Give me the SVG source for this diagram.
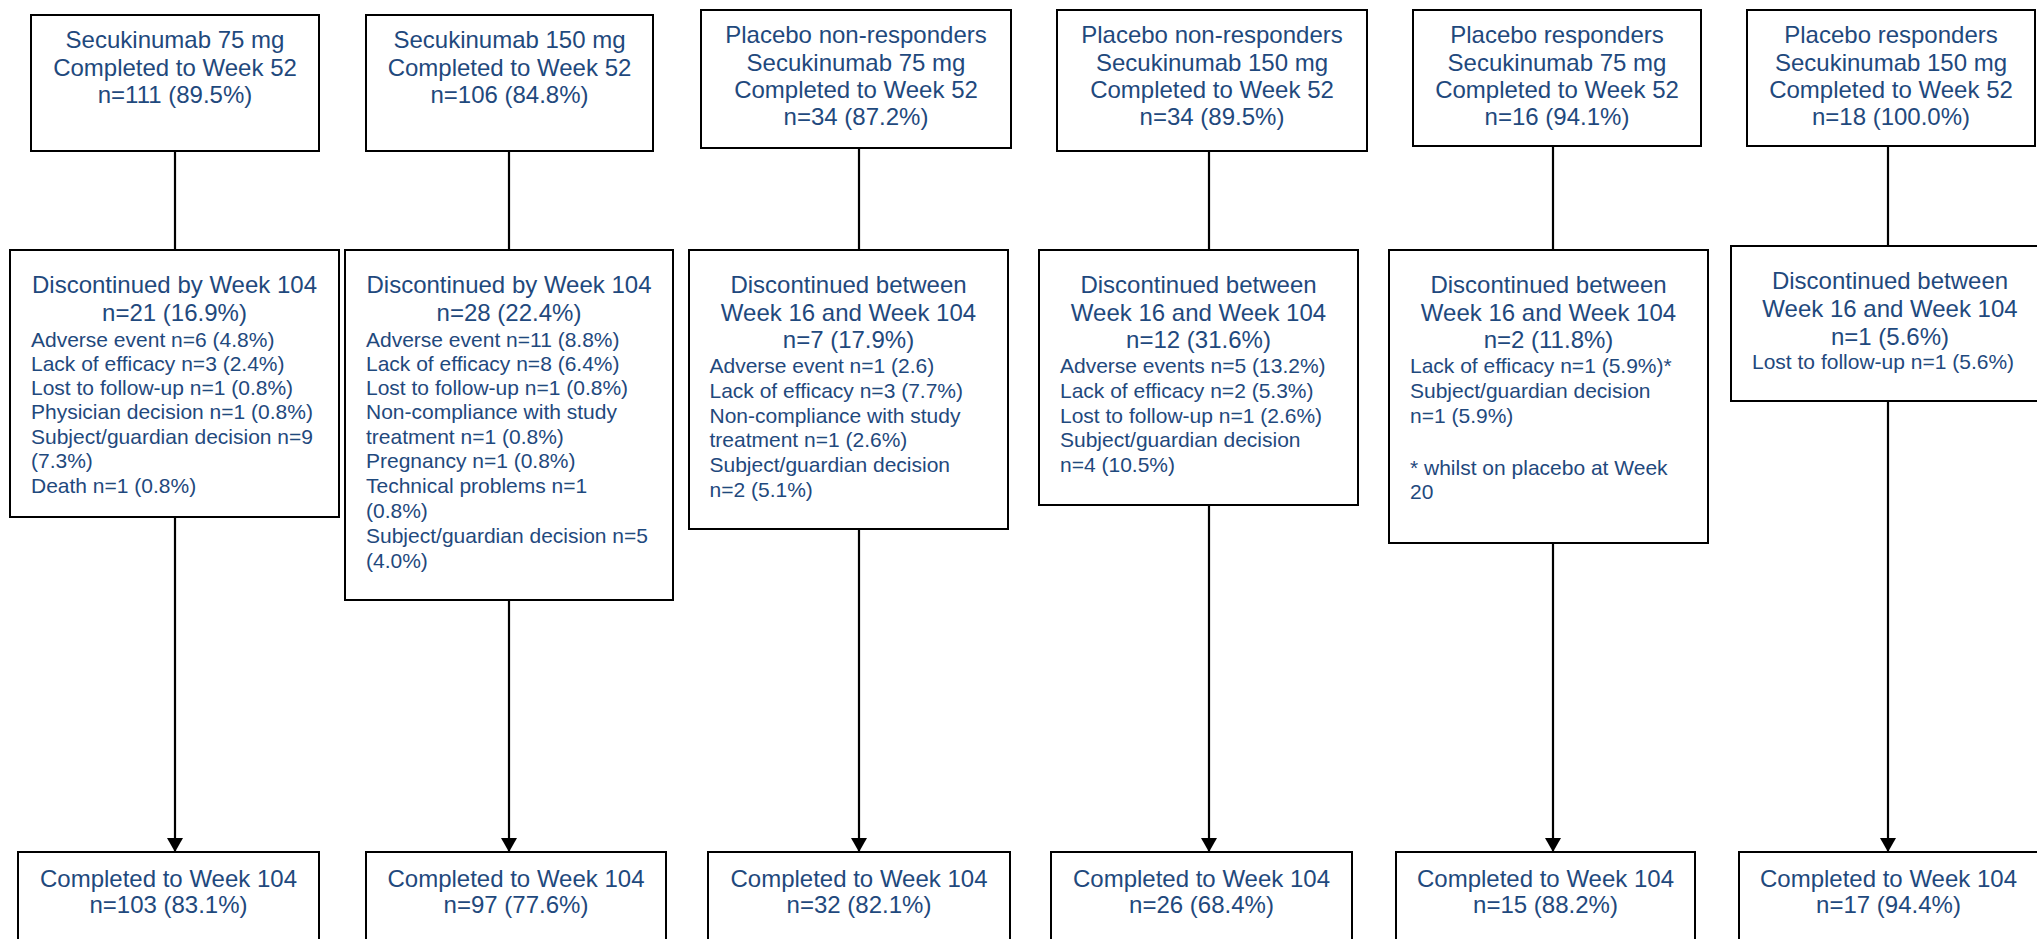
<svg xmlns="http://www.w3.org/2000/svg" width="2037" height="939" viewBox="0 0 2037 939">
  <defs>
    <style>
      .box { fill: #ffffff; stroke: #000000; stroke-width: 2; }
      .link { stroke: #000000; stroke-width: 2.2; fill: none; }
      .t { font-family: "Liberation Sans", Arial, sans-serif; fill: #1F497D; }
      .h { font-size: 24px; text-anchor: middle; }
      .i { font-size: 21px; }
    </style>
    <marker id="arrow" viewBox="0 0 14 16" refX="14" refY="8" markerWidth="14" markerHeight="16" markerUnits="userSpaceOnUse" orient="auto">
      <path d="M0,0 L14,8 L0,16 z" fill="#000000"/>
    </marker>
  </defs>
  <rect width="2037" height="939" fill="#ffffff"/>

  <!-- connectors -->
  <g id="connectors">
    <line class="link" x1="175" y1="151" x2="175" y2="250"/>
    <line class="link" x1="509" y1="151" x2="509" y2="250"/>
    <line class="link" x1="859" y1="148" x2="859" y2="250"/>
    <line class="link" x1="1209" y1="151" x2="1209" y2="250"/>
    <line class="link" x1="1553" y1="146" x2="1553" y2="250"/>
    <line class="link" x1="1888" y1="146" x2="1888" y2="246"/>
    <line class="link" x1="175" y1="517" x2="175" y2="852" marker-end="url(#arrow)"/>
    <line class="link" x1="509" y1="600" x2="509" y2="852" marker-end="url(#arrow)"/>
    <line class="link" x1="859" y1="529" x2="859" y2="852" marker-end="url(#arrow)"/>
    <line class="link" x1="1209" y1="505" x2="1209" y2="852" marker-end="url(#arrow)"/>
    <line class="link" x1="1553" y1="543" x2="1553" y2="852" marker-end="url(#arrow)"/>
    <line class="link" x1="1888" y1="401" x2="1888" y2="852" marker-end="url(#arrow)"/>
  </g>

  <!-- Week 52 boxes -->
  <g id="w52-s75">
    <rect class="box" x="31" y="15" width="288" height="136"/>
    <text class="t h" x="175" y="48">Secukinumab 75 mg</text>
    <text class="t h" x="175" y="76">Completed to Week 52</text>
    <text class="t h" x="175" y="103">n=111 (89.5%)</text>
  </g>
  <g id="w52-s150">
    <rect class="box" x="366" y="15" width="287" height="136"/>
    <text class="t h" x="509.5" y="48">Secukinumab 150 mg</text>
    <text class="t h" x="509.5" y="76">Completed to Week 52</text>
    <text class="t h" x="509.5" y="103">n=106 (84.8%)</text>
  </g>
  <g id="w52-pnr75">
    <rect class="box" x="701" y="10" width="310" height="138"/>
    <text class="t h" x="856" y="43">Placebo non-responders</text>
    <text class="t h" x="856" y="71">Secukinumab 75 mg</text>
    <text class="t h" x="856" y="98">Completed to Week 52</text>
    <text class="t h" x="856" y="125">n=34 (87.2%)</text>
  </g>
  <g id="w52-pnr150">
    <rect class="box" x="1057" y="10" width="310" height="141"/>
    <text class="t h" x="1212" y="43">Placebo non-responders</text>
    <text class="t h" x="1212" y="71">Secukinumab 150 mg</text>
    <text class="t h" x="1212" y="98">Completed to Week 52</text>
    <text class="t h" x="1212" y="125">n=34 (89.5%)</text>
  </g>
  <g id="w52-pr75">
    <rect class="box" x="1413" y="10" width="288" height="136"/>
    <text class="t h" x="1557" y="43">Placebo responders</text>
    <text class="t h" x="1557" y="71">Secukinumab 75 mg</text>
    <text class="t h" x="1557" y="98">Completed to Week 52</text>
    <text class="t h" x="1557" y="125">n=16 (94.1%)</text>
  </g>
  <g id="w52-pr150">
    <rect class="box" x="1747" y="10" width="288" height="136"/>
    <text class="t h" x="1891" y="43">Placebo responders</text>
    <text class="t h" x="1891" y="71">Secukinumab 150 mg</text>
    <text class="t h" x="1891" y="98">Completed to Week 52</text>
    <text class="t h" x="1891" y="125">n=18 (100.0%)</text>
  </g>

  <!-- discontinuation boxes -->
  <g id="disc-s75">
    <rect class="box" x="10" y="250" width="329" height="267"/>
    <text class="t h" x="174.5" y="293">Discontinued by Week 104</text>
    <text class="t h" x="174.5" y="321">n=21 (16.9%)</text>
    <text class="t i" x="31" y="347">Adverse event n=6 (4.8%)</text>
    <text class="t i" x="31" y="371">Lack of efficacy n=3 (2.4%)</text>
    <text class="t i" x="31" y="395">Lost to follow-up n=1 (0.8%)</text>
    <text class="t i" x="31" y="419">Physician decision n=1 (0.8%)</text>
    <text class="t i" x="31" y="444">Subject/guardian decision n=9</text>
    <text class="t i" x="31" y="468">(7.3%)</text>
    <text class="t i" x="31" y="493">Death n=1 (0.8%)</text>
  </g>
  <g id="disc-s150">
    <rect class="box" x="345" y="250" width="328" height="350"/>
    <text class="t h" x="509" y="293">Discontinued by Week 104</text>
    <text class="t h" x="509" y="321">n=28 (22.4%)</text>
    <text class="t i" x="366" y="347">Adverse event n=11 (8.8%)</text>
    <text class="t i" x="366" y="371">Lack of efficacy n=8 (6.4%)</text>
    <text class="t i" x="366" y="395">Lost to follow-up n=1 (0.8%)</text>
    <text class="t i" x="366" y="419">Non-compliance with study</text>
    <text class="t i" x="366" y="444">treatment n=1 (0.8%)</text>
    <text class="t i" x="366" y="468">Pregnancy n=1 (0.8%)</text>
    <text class="t i" x="366" y="493">Technical problems n=1</text>
    <text class="t i" x="366" y="518">(0.8%)</text>
    <text class="t i" x="366" y="543">Subject/guardian decision n=5</text>
    <text class="t i" x="366" y="568">(4.0%)</text>
  </g>
  <g id="disc-pnr75">
    <rect class="box" x="689" y="250" width="319" height="279"/>
    <text class="t h" x="848.5" y="293">Discontinued between</text>
    <text class="t h" x="848.5" y="321">Week 16 and Week 104</text>
    <text class="t h" x="848.5" y="348">n=7 (17.9%)</text>
    <text class="t i" x="709.5" y="373">Adverse event n=1 (2.6)</text>
    <text class="t i" x="709.5" y="398">Lack of efficacy n=3 (7.7%)</text>
    <text class="t i" x="709.5" y="423">Non-compliance with study</text>
    <text class="t i" x="709.5" y="447">treatment n=1 (2.6%)</text>
    <text class="t i" x="709.5" y="472">Subject/guardian decision</text>
    <text class="t i" x="709.5" y="497">n=2 (5.1%)</text>
  </g>
  <g id="disc-pnr150">
    <rect class="box" x="1039" y="250" width="319" height="255"/>
    <text class="t h" x="1198.5" y="293">Discontinued between</text>
    <text class="t h" x="1198.5" y="321">Week 16 and Week 104</text>
    <text class="t h" x="1198.5" y="348">n=12 (31.6%)</text>
    <text class="t i" x="1060" y="373">Adverse events n=5 (13.2%)</text>
    <text class="t i" x="1060" y="398">Lack of efficacy n=2 (5.3%)</text>
    <text class="t i" x="1060" y="423">Lost to follow-up n=1 (2.6%)</text>
    <text class="t i" x="1060" y="447">Subject/guardian decision</text>
    <text class="t i" x="1060" y="472">n=4 (10.5%)</text>
  </g>
  <g id="disc-pr75">
    <rect class="box" x="1389" y="250" width="319" height="293"/>
    <text class="t h" x="1548.5" y="293">Discontinued between</text>
    <text class="t h" x="1548.5" y="321">Week 16 and Week 104</text>
    <text class="t h" x="1548.5" y="348">n=2 (11.8%)</text>
    <text class="t i" x="1410" y="373">Lack of efficacy n=1 (5.9%)*</text>
    <text class="t i" x="1410" y="398">Subject/guardian decision</text>
    <text class="t i" x="1410" y="423">n=1 (5.9%)</text>
    <text class="t i" x="1410" y="475">* whilst on placebo at Week</text>
    <text class="t i" x="1410" y="499">20</text>
  </g>
  <g id="disc-pr150">
    <rect class="box" x="1731" y="246" width="318" height="155"/>
    <text class="t h" x="1890" y="289">Discontinued between</text>
    <text class="t h" x="1890" y="317">Week 16 and Week 104</text>
    <text class="t h" x="1890" y="345">n=1 (5.6%)</text>
    <text class="t i" x="1752" y="369">Lost to follow-up n=1 (5.6%)</text>
  </g>

  <!-- Week 104 boxes -->
  <g id="w104-s75">
    <rect class="box" x="18" y="852" width="301" height="110"/>
    <text class="t h" x="168.5" y="887">Completed to Week 104</text>
    <text class="t h" x="168.5" y="913">n=103 (83.1%)</text>
  </g>
  <g id="w104-s150">
    <rect class="box" x="366" y="852" width="300" height="110"/>
    <text class="t h" x="516" y="887">Completed to Week 104</text>
    <text class="t h" x="516" y="913">n=97 (77.6%)</text>
  </g>
  <g id="w104-pnr75">
    <rect class="box" x="708" y="852" width="302" height="110"/>
    <text class="t h" x="859" y="887">Completed to Week 104</text>
    <text class="t h" x="859" y="913">n=32 (82.1%)</text>
  </g>
  <g id="w104-pnr150">
    <rect class="box" x="1051" y="852" width="301" height="110"/>
    <text class="t h" x="1201.5" y="887">Completed to Week 104</text>
    <text class="t h" x="1201.5" y="913">n=26 (68.4%)</text>
  </g>
  <g id="w104-pr75">
    <rect class="box" x="1396" y="852" width="299" height="110"/>
    <text class="t h" x="1545.5" y="887">Completed to Week 104</text>
    <text class="t h" x="1545.5" y="913">n=15 (88.2%)</text>
  </g>
  <g id="w104-pr150">
    <rect class="box" x="1739" y="852" width="299" height="110"/>
    <text class="t h" x="1888.5" y="887">Completed to Week 104</text>
    <text class="t h" x="1888.5" y="913">n=17 (94.4%)</text>
  </g>
</svg>
